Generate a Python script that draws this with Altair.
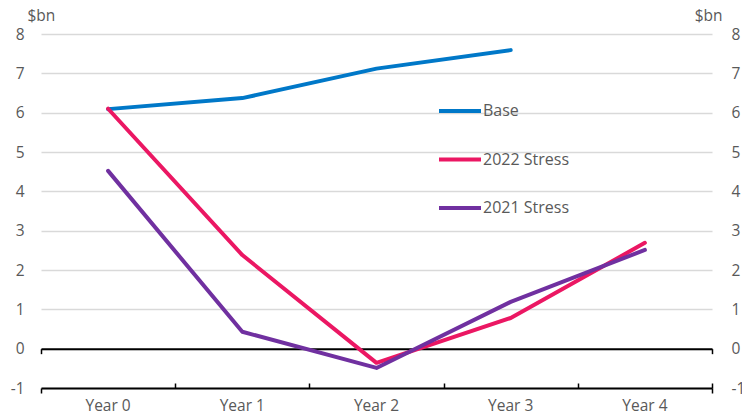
import altair as alt
import pandas as pd

# Chart data
years = ["Year 0", "Year 1", "Year 2", "Year 3", "Year 4"]
series_names = ["Base", "2022 Stress", "2021 Stress"]
series_colors = ["#0078C8", "#EB1763", "#7030A0"]
base = [6.09, 6.37, 7.12, 7.59, None]
stress_2022 = [6.10, 2.38, -0.36, 0.78, 2.69]
stress_2021 = [4.52, 0.43, -0.49, 1.19, 2.51]
y_ticks = [-1, 0, 1, 2, 3, 4, 5, 6, 7, 8]
y_min, y_max = -1, 8

rows = []
for name, vals in zip(series_names, [base, stress_2022, stress_2021]):
    for yr, v in zip(years, vals):
        if v is not None:
            rows.append({"series": name, "year": yr, "value": v})
df = pd.DataFrame(rows)

W, H = 671, 354
FONT = "Open Sans"
GREY = "#595959"
y_scale = alt.Scale(domain=[y_min, y_max], nice=False, zero=False)
x_scale = alt.Scale(domain=years)
zero_offset = -H * (0 - y_min) / (y_max - y_min)
half_band = W / len(years) / 2

y_axis_style = dict(
    values=y_ticks,
    domain=False,
    ticks=False,
    labelFont=FONT,
    labelFontSize=15.5,
    labelColor=GREY,
    labelExpr="datum.value < 0 ? '-' + abs(datum.value) : datum.label",
    title="$bn",
    titleAngle=0,
    titleFont=FONT,
    titleFontSize=15.5,
    titleFontWeight="normal",
    titleColor=GREY,
    titleBaseline="middle",
    titleY=-19,
)


def x_guide(**kw):
    """A bottom x axis on the shared category scale, drawn with no labels."""
    opts = dict(orient="bottom", title=None, labels=False, domain=False,
                tickColor="black", tickWidth=1.5, tickSize=5)
    opts.update(kw)
    return alt.X("year:N", sort=years, scale=x_scale, axis=alt.Axis(**opts))


def ghost(x_enc, y_axis=None):
    """Transparent copy of the series that only carries a guide."""
    return alt.Chart(df).mark_point(opacity=0).encode(
        x=x_enc,
        y=alt.Y("value:Q", scale=y_scale, axis=y_axis),
    )


# Series lines with the category labels, the -1 base line and the left axis
lines = alt.Chart(df).mark_line(strokeWidth=4, strokeCap="round", strokeJoin="round").encode(
    x=alt.X(
        "year:N",
        sort=years,
        scale=x_scale,
        axis=alt.Axis(
            orient="bottom",
            title=None,
            labelAngle=0,
            ticks=False,
            domain=True,
            domainColor="black",
            domainWidth=2,
            labelPadding=10,
            labelFont=FONT,
            labelFontSize=15.5,
            labelColor=GREY,
        ),
    ),
    y=alt.Y(
        "value:Q",
        scale=y_scale,
        axis=alt.Axis(
            orient="left",
            grid=True,
            gridColor="#d9d9d9",
            gridWidth=1.5,
            labelPadding=17,
            titleX=-14,
            titleAlign="left",
            **y_axis_style,
        ),
    ),
    color=alt.Color(
        "series:N",
        scale=alt.Scale(domain=series_names, range=series_colors),
        sort=series_names,
        legend=alt.Legend(
            title=None,
            orient="none",
            legendX=396,
            legendY=54,
            direction="vertical",
            symbolType="stroke",
            symbolSize=1764,
            symbolStrokeWidth=4,
            rowPadding=17.5,
            labelOffset=0,
            labelFont=FONT,
            labelFontSize=16,
            labelColor=GREY,
        ),
    ),
    detail="series:N",
)

# Right-hand value axis plus the left end tick of the -1 line
right_axis = ghost(
    x_guide(values=[years[0]], tickOffset=-half_band),
    alt.Axis(orient="right", grid=False, labelPadding=19, titleX=10,
             titleAlign="right", **y_axis_style),
)
# Right end tick of the -1 line
base_right_tick = ghost(x_guide(values=[years[-1]], tickOffset=half_band))

# Upward ticks between the categories on the -1 line
inner_ticks = ghost(x_guide(values=years[1:], tickBand="extent", offset=-5))

# Zero line with its two end ticks
zero_left = ghost(
    x_guide(values=[years[0]], tickOffset=-half_band, offset=zero_offset,
            domain=True, domainColor="black", domainWidth=2)
)
zero_right = ghost(x_guide(values=[years[-1]], tickOffset=half_band, offset=zero_offset))

chart = (
    alt.layer(zero_left, zero_right, inner_ticks, base_right_tick, right_axis, lines)
    .resolve_axis(x="independent", y="independent")
    .properties(
        width=W,
        height=H,
        autosize=alt.AutoSizeParams(type="none"),
        padding={"left": 41, "top": 34, "right": 30, "bottom": 31},
    )
    .configure_view(stroke=None)
)

chart.save("out.html", embed_options={"renderer": "svg", "actions": False})
